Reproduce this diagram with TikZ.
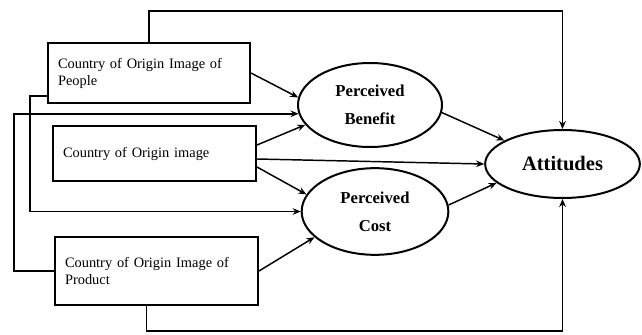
\documentclass[tikz,border=0pt]{standalone}
\usepackage{fontspec}
\setmainfont{Liberation Serif}
\usetikzlibrary{shapes.geometric,arrows.meta,calc}

\begin{document}
\begin{tikzpicture}[x=0.75pt,y=-0.75pt,
    coobox/.style={draw,line width=1.5pt,rectangle,align=left,text width=136.5pt,inner xsep=7.5pt,
        font=\fontsize{10.8}{12.75}\selectfont},
    latent/.style={draw,line width=1.5pt,ellipse,inner sep=0pt,align=center,
        font=\bfseries\fontsize{12.5}{21}\selectfont},
    link/.style={line width=1.1pt,->,>={Stealth[length=6pt,width=5pt]}}]
        \useasboundingbox (0,0) rectangle (642,335);

        % 三个方框
        \node[coobox,minimum height=45pt] (peo) at (149,73) {Country of Origin Image of\\People};
        \node[coobox,minimum height=41.25pt,text width=137.25pt] (img) at (154.5,153.5) {Country of Origin image};
        \node[coobox,minimum height=51pt,text width=137.25pt] (pro) at (156.5,271) {Country of Origin Image of\\Product};

        % 三个椭圆
        \node[latent,minimum width=108pt,minimum height=63pt] (ben) at (370,105) {Perceived\\Benefit};
        \node[latent,minimum width=110pt,minimum height=65pt] (cst) at (375,211.5) {Perceived\\Cost};
        \node[latent,minimum width=116pt,minimum height=51pt,font=\bfseries\fontsize{15.4}{18}\selectfont] (att) at (562.5,164) {Attitudes};

        % 直接箭头
        \draw[link] (peo.east) -- (ben.174);
        \draw[link] ($(img.east)+(0,-8.5)$) -- (ben.197);
        \draw[link] ($(img.east)+(0,5.5)$) -- (att.west);
        \draw[link] ($(img.east)+(0,13.5)$) -- (cst.166);
        \draw[link] (pro.east) -- (cst.203);
        \draw[link] (ben.354) -- (att.158);
        \draw[link] (cst.5) -- (att.196);

        % 绕行的箭头
        \draw[link] (peo.north) -- ++(0,-31) -| (att.north);
        \draw[link] ($(pro.south)+(-10,0)$) -- ++(0,25) -| (att.south);
        \draw[link] ($(peo.south west)+(0,-8)$) -- ++(-17,0) |- (cst.west);
        \draw[link] (pro.west) -- ++(-40,0) |- (ben.187);
    \end{tikzpicture}
\end{document}
